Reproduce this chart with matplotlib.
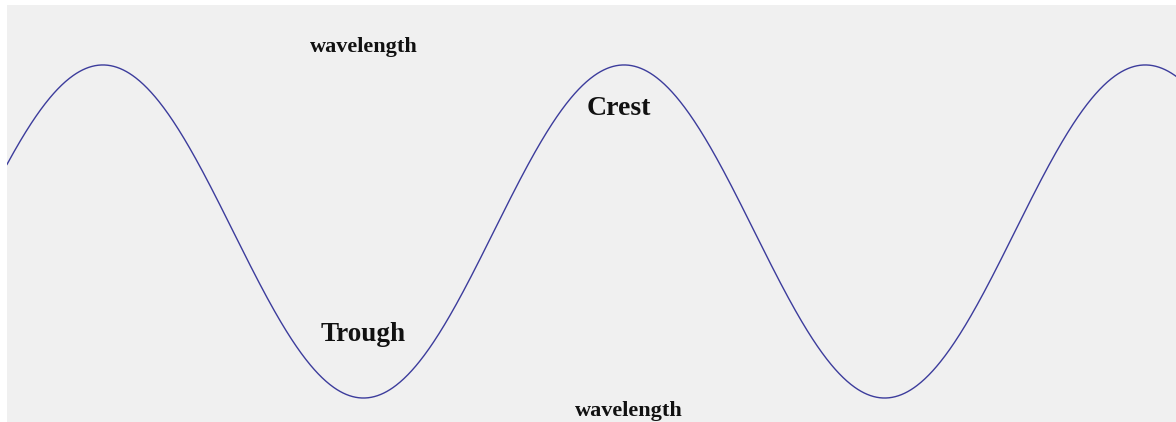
import matplotlib.pyplot as plt
import numpy as np

# wave description (x in wavelengths, y in amplitudes)
wavelength = 1.0
amplitude = 1.0
x_start = 0.066
x_end = 2.309

labels = ['wavelength', 'Crest', 'Trough', 'wavelength']
label_x = [0.75, 1.24, 0.75, 1.26]
label_y = [1.105, 0.74, -0.62, -1.075]
label_size = [16, 20, 19.5, 16]

fig = plt.figure(figsize=(11.76, 4.22), dpi=100)
fig.patch.set_facecolor('white')
ax = fig.add_axes([7 / 1176, 0, 1 - 7 / 1176, 417 / 422])
ax.set_facecolor('#f0f0f0')

x = np.linspace(x_start, x_end, 1500)
y = amplitude * np.sin(2 * np.pi * x / wavelength)
ax.plot(x, y, color='#3c3c9c', lw=1.0)

for txt, tx, ty, fs in zip(labels, label_x, label_y, label_size):
    ax.text(tx, ty, txt, ha='center', va='center', fontsize=fs,
            fontweight='bold', family='Liberation Serif', color='#111111')

ax.set_xlim(x_start, x_end)
ax.set_ylim(-1.144, 1.360)
ax.set_xticks([])
ax.set_yticks([])
for s in ax.spines.values():
    s.set_visible(False)

fig.savefig('out.png', dpi=100, facecolor=fig.get_facecolor())
